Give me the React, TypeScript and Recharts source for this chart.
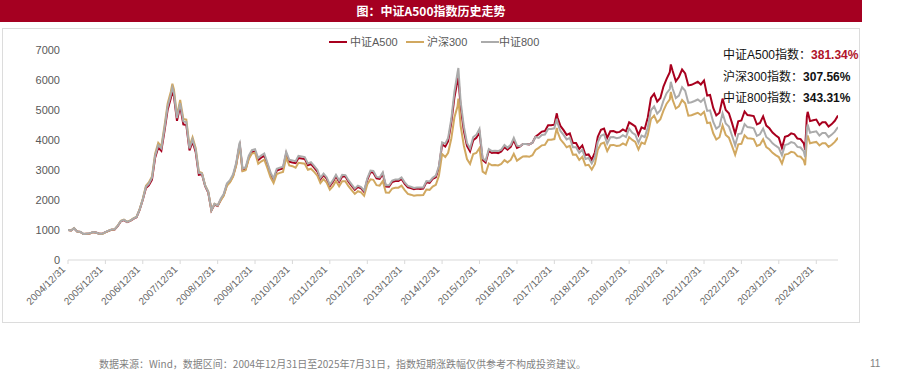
import React from "react";
import { LineChart, Line, XAxis, YAxis } from "recharts";

// ---- data (index level, base 2004/12/31 = 1000) ----
const dates: string[] = [
  "2004-12",
  "2005-01","2005-02","2005-03","2005-04","2005-05","2005-06","2005-07","2005-08","2005-09","2005-10","2005-11","2005-12",
  "2006-01","2006-02","2006-03","2006-04","2006-05","2006-06","2006-07","2006-08","2006-09","2006-10","2006-11","2006-12",
  "2007-01","2007-02","2007-03","2007-04","2007-05","2007-06","2007-07","2007-08","2007-09","2007-10-16","2007-10","2007-11","2007-12",
  "2008-01","2008-02","2008-03","2008-04","2008-05","2008-06","2008-07","2008-08","2008-09","2008-10","2008-11","2008-12",
  "2009-01","2009-02","2009-03","2009-04","2009-05","2009-06","2009-07","2009-08-04","2009-08","2009-09","2009-10","2009-11","2009-12",
  "2010-01","2010-02","2010-03","2010-04","2010-05","2010-06","2010-07","2010-08","2010-09","2010-10","2010-11","2010-12",
  "2011-01","2011-02","2011-03","2011-04","2011-05","2011-06","2011-07","2011-08","2011-09","2011-10","2011-11","2011-12",
  "2012-01","2012-02","2012-03","2012-04","2012-05","2012-06","2012-07","2012-08","2012-09","2012-10","2012-11","2012-12",
  "2013-01","2013-02","2013-03","2013-04","2013-05","2013-06","2013-07","2013-08","2013-09","2013-10","2013-11","2013-12",
  "2014-01","2014-02","2014-03","2014-04","2014-05","2014-06","2014-07","2014-08","2014-09","2014-10","2014-11","2014-12",
  "2015-01","2015-02","2015-03","2015-04","2015-05","2015-06-08","2015-06","2015-07","2015-08","2015-09","2015-10","2015-11","2015-12",
  "2016-01","2016-02","2016-03","2016-04","2016-05","2016-06","2016-07","2016-08","2016-09","2016-10","2016-11","2016-12",
  "2017-01","2017-02","2017-03","2017-04","2017-05","2017-06","2017-07","2017-08","2017-09","2017-10","2017-11","2017-12",
  "2018-01-24","2018-01","2018-02","2018-03","2018-04","2018-05","2018-06","2018-07","2018-08","2018-09","2018-10","2018-11","2018-12",
  "2019-01","2019-02","2019-03","2019-04","2019-05","2019-06","2019-07","2019-08","2019-09","2019-10","2019-11","2019-12",
  "2020-01","2020-02","2020-03","2020-04","2020-05","2020-06","2020-07","2020-08","2020-09","2020-10","2020-11","2020-12",
  "2021-01","2021-02-10","2021-02","2021-03","2021-04","2021-05","2021-06","2021-07","2021-08","2021-09","2021-10","2021-11","2021-12",
  "2022-01","2022-02","2022-03","2022-04","2022-05","2022-06","2022-07","2022-08","2022-09","2022-10","2022-11","2022-12",
  "2023-01","2023-02","2023-03","2023-04","2023-05","2023-06","2023-07","2023-08","2023-09","2023-10","2023-11","2023-12",
  "2024-01","2024-02","2024-03","2024-04","2024-05","2024-06","2024-07","2024-08","2024-09-13","2024-09","2024-10-08","2024-10","2024-11","2024-12",
  "2025-01","2025-02","2025-03","2025-04","2025-05","2025-06","2025-07",
];

const hs300: number[] = [
  1000,
  982,1063,947,937,865,874,884,927,913,871,869,923,
  975,1011,1022,1141,1306,1345,1275,1316,1384,1440,1690,2041,
  2475,2583,2781,3533,3904,3784,4471,5219,5601,5877,5688,4814,5338,
  4701,4680,3790,4089,3728,2948,2902,2493,2279,1663,1869,1817,
  1991,2141,2472,2583,2779,3150,3773,3803,2961,2993,3370,3546,3575,
  3204,3282,3346,3068,2756,2564,2868,2903,2936,3410,3153,3128,
  3076,3239,3223,3208,3010,3044,2937,2811,2563,2695,2577,2346,
  2464,2634,2455,2627,2622,2461,2332,2204,2293,2254,2140,2523,
  2688,2673,2495,2478,2631,2247,2240,2383,2410,2410,2476,2330,
  2203,2178,2146,2160,2157,2165,2350,2338,2450,2508,2809,3533,
  3434,3572,4051,4749,5123,5380,4473,3816,3366,3203,3534,3566,3731,
  2946,2877,3218,3156,3169,3154,3203,3327,3253,3336,3538,3311,
  3387,3452,3456,3439,3492,3666,3737,3822,3837,4006,4006,4031,
  4403,4275,4023,3899,3757,3802,3510,3517,3335,3438,3153,3173,3011,
  3201,3670,3872,3913,3630,3826,3836,3799,3815,3887,3829,4097,
  4003,3940,3686,3912,3868,4164,4696,4816,4587,4695,4981,5211,
  5351,5600,5336,5049,5123,5332,5224,4811,4828,4866,4908,4833,4940,
  4564,4581,4223,4016,4091,4485,4170,4079,3805,3508,3854,3872,
  4157,4061,4051,4030,3799,3843,4022,3765,3690,3573,3496,3431,
  3216,3516,3537,3604,3580,3462,3442,3321,3160,4018,4150,3891,3916,3935,
  3817,3890,3888,3770,3840,3936,4076,
];

const csi800: number[] = [
  1000,
  985,1060,950,940,870,878,888,930,918,876,874,928,
  978,1015,1025,1140,1300,1340,1270,1310,1380,1435,1680,2020,
  2440,2540,2740,3470,3830,3720,4390,5120,5490,5740,5570,4730,5230,
  4620,4600,3720,4020,3670,2900,2880,2480,2270,1660,1870,1820,
  2050,2200,2550,2660,2860,3240,3880,3910,3050,3090,3480,3660,3690,
  3400,3480,3550,3250,2920,2720,3040,3080,3110,3610,3340,3320,
  3290,3470,3450,3430,3220,3260,3140,3010,2740,2880,2760,2510,
  2660,2840,2650,2840,2830,2660,2520,2380,2480,2430,2310,2720,
  2980,2970,2770,2750,2920,2490,2490,2650,2680,2680,2750,2590,
  2470,2440,2400,2420,2420,2420,2630,2620,2740,2810,3130,3920,
  3880,4070,4700,5600,6250,6400,5280,4460,3900,3720,4100,4170,4370,
  3390,3310,3700,3630,3640,3630,3680,3830,3740,3840,4070,3810,
  3790,3870,3870,3850,3910,4100,4070,4170,4180,4370,4370,4390,
  4710,4570,4300,4170,4020,4070,3760,3760,3570,3680,3370,3400,3220,
  3430,3930,4140,4190,3880,4090,4100,4060,4080,4160,4100,4380,
  4240,4180,3910,4150,4100,4410,4990,5120,4880,4990,5310,5560,
  5700,5940,5710,5400,5480,5760,5640,5240,5260,5300,5350,5270,5380,
  4970,4990,4600,4380,4460,4890,4550,4450,4150,3820,4200,4220,
  4530,4430,4420,4390,4140,4190,4380,4100,4020,3890,3810,3740,
  3490,3830,3860,3930,3900,3770,3750,3620,3430,4380,4520,4240,4270,4290,
  4150,4230,4230,4100,4180,4280,4433,
];

const csiA500: number[] = [
  1000,
  983,1058,948,938,868,876,886,928,916,874,872,926,
  972,1005,1015,1130,1290,1330,1262,1302,1370,1425,1668,2010,
  2400,2490,2680,3400,3750,3640,4300,5010,5380,5600,5460,4640,5130,
  4520,4500,3650,3940,3590,2840,2860,2460,2250,1650,1850,1800,
  2010,2160,2500,2610,2810,3180,3810,3840,2990,3030,3410,3590,3620,
  3330,3410,3480,3190,2870,2670,2980,3020,3050,3550,3280,3250,
  3230,3400,3380,3370,3160,3200,3080,2950,2690,2830,2710,2460,
  2610,2790,2600,2780,2780,2610,2470,2340,2430,2390,2270,2670,
  2930,2910,2720,2700,2870,2450,2440,2600,2630,2630,2700,2540,
  2420,2400,2360,2380,2370,2380,2590,2570,2700,2760,3080,3850,
  3780,3960,4580,5410,5990,6080,5100,4310,3800,3620,3990,4070,4250,
  3330,3250,3640,3570,3580,3560,3620,3760,3680,3770,4000,3740,
  3790,3870,3870,3850,3910,4110,4190,4280,4300,4490,4490,4510,
  4890,4750,4470,4330,4170,4220,3900,3900,3700,3820,3500,3520,3340,
  3590,4110,4340,4380,4070,4290,4300,4250,4270,4350,4290,4590,
  4520,4450,4170,4420,4370,4750,5400,5540,5280,5400,5780,6040,
  6260,6520,6300,5960,6100,6350,6220,5820,5840,5890,5940,5850,5980,
  5480,5500,5070,4820,4910,5380,5000,4890,4570,4210,4620,4650,
  4950,4830,4820,4800,4520,4570,4790,4480,4390,4250,4160,4080,
  3730,4110,4140,4220,4190,4050,4030,3890,3670,4780,4940,4630,4660,4680,
  4500,4590,4590,4450,4530,4640,4813,
];

const tickYears: number[] = [2004,2005,2006,2007,2008,2009,2010,2011,2012,2013,2014,2015,2016,2017,2018,2019,2020,2021,2022,2023,2024];
const yTicks: number[] = [0,1000,2000,3000,4000,5000,6000,7000];

const seriesNames = { a500: "中证A500", hs300: "沪深300", csi800: "中证800" };
const finalReturns = { a500: "381.34%", hs300: "307.56%", csi800: "343.31%" };

const C_RED = "#a8001e";
const C_GOLD = "#d1a860";
const C_GRAY = "#ababab";
const FONT = "'Liberation Sans', 'Noto Sans CJK SC', sans-serif";

function toTime(s: string): number {
  const p = s.split("-").map(Number);
  if (p.length === 3) return Date.UTC(p[0], p[1] - 1, p[2]);
  return Date.UTC(p[0], p[1], 0);
}

const rows = dates.map((d, i) => ({
  t: toTime(d),
  a500: csiA500[i],
  hs300: hs300[i],
  csi800: csi800[i],
}));

const xTicks = tickYears.map((y) => Date.UTC(y, 11, 31));
const xDomain = [Date.UTC(2004, 11, 31), Date.UTC(2025, 6, 31)];

function XTick(props: any) {
  const { x, y, payload } = props;
  const d = new Date(payload.value);
  const label = `${d.getUTCFullYear()}/12/31`;
  const ax = x - 2;
  const ay = y + 4;
  return (
    <text
      x={ax}
      y={ay}
      transform={`rotate(-45 ${ax} ${ay})`}
      textAnchor="end"
      fontSize={10}
      fill="#666666"
      fontFamily={FONT}
    >
      {label}
    </text>
  );
}

export default function App() {
  const legendItems = [
    { name: seriesNames.a500, color: C_RED, lx: 329, tx: 350 },
    { name: seriesNames.hs300, color: C_GOLD, lx: 406, tx: 427 },
    { name: seriesNames.csi800, color: C_GRAY, lx: 481, tx: 499 },
  ];
  const notes = [
    { label: "中证A500指数：", value: finalReturns.a500, color: "#b0142a", top: 47 },
    { label: "沪深300指数：", value: finalReturns.hs300, color: "#111111", top: 69 },
    { label: "中证800指数：", value: finalReturns.csi800, color: "#111111", top: 90 },
  ];
  return (
    <div style={{ position: "absolute", left: 0, top: 0, width: 913, height: 376, background: "#fff", fontFamily: FONT, overflow: "hidden" }}>
      <div style={{ position: "absolute", left: 0, top: 0, width: 862, height: 22, background: "#a50021", color: "#fff", fontSize: 12, fontWeight: 700, lineHeight: "22px", textAlign: "center", fontFamily: "'Noto Sans CJK SC', sans-serif" }}>
        图：中证A500指数历史走势
      </div>
      <div style={{ position: "absolute", left: 2, top: 28, width: 856, height: 293, border: "1px solid #dcdcdc" }} />
      <div style={{ position: "absolute", left: 0, top: 0 }}>
        <LineChart width={913} height={376} data={rows} margin={{ top: 50, right: 75, bottom: 56, left: 0 }}>
          <XAxis
            type="number"
            dataKey="t"
            domain={xDomain}
            ticks={xTicks}
            interval={0}
            allowDataOverflow
            tick={<XTick />}
            tickSize={4}
            tickMargin={2}
            axisLine={{ stroke: "#d9d9d9" }}
            tickLine={{ stroke: "#d9d9d9" }}
            height={60}
          />
          <YAxis
            domain={[0, 7000]}
            ticks={yTicks}
            width={68}
            axisLine={false}
            tickLine={false}
            tick={{ fontSize: 11, fill: "#595959", fontFamily: FONT }}
          />
          <Line type="linear" dataKey="a500" stroke={C_RED} strokeWidth={2} dot={false} isAnimationActive={false} />
          <Line type="linear" dataKey="hs300" stroke={C_GOLD} strokeWidth={2} dot={false} isAnimationActive={false} />
          <Line type="linear" dataKey="csi800" stroke={C_GRAY} strokeWidth={2} dot={false} isAnimationActive={false} />
        </LineChart>
      </div>
      {legendItems.map((it) => (
        <React.Fragment key={it.name}>
          <div style={{ position: "absolute", left: it.lx, top: 41, width: 18, height: 2, background: it.color }} />
          <div style={{ position: "absolute", left: it.tx, top: 35, fontSize: 11, lineHeight: "14px", color: "#595959", whiteSpace: "nowrap" }}>{it.name}</div>
        </React.Fragment>
      ))}
      {notes.map((n) => (
        <div key={n.label} style={{ position: "absolute", left: 723, top: n.top, fontSize: 12, lineHeight: "16px", color: "#111", whiteSpace: "nowrap" }}>
          {n.label}
          <span style={{ fontWeight: 700, color: n.color }}>{n.value}</span>
        </div>
      ))}
      <div style={{ position: "absolute", left: 99, top: 357, fontSize: 10, lineHeight: "14px", color: "#7f7f7f", whiteSpace: "nowrap", fontFamily: "'Noto Sans CJK SC', sans-serif" }}>
        数据来源：Wind，数据区间：2004年12月31日至2025年7月31日，指数短期涨跌幅仅供参考不构成投资建议。
      </div>
      <div style={{ position: "absolute", left: 870, top: 357, fontSize: 10, lineHeight: "14px", color: "#7f7f7f" }}>11</div>
    </div>
  );
}
